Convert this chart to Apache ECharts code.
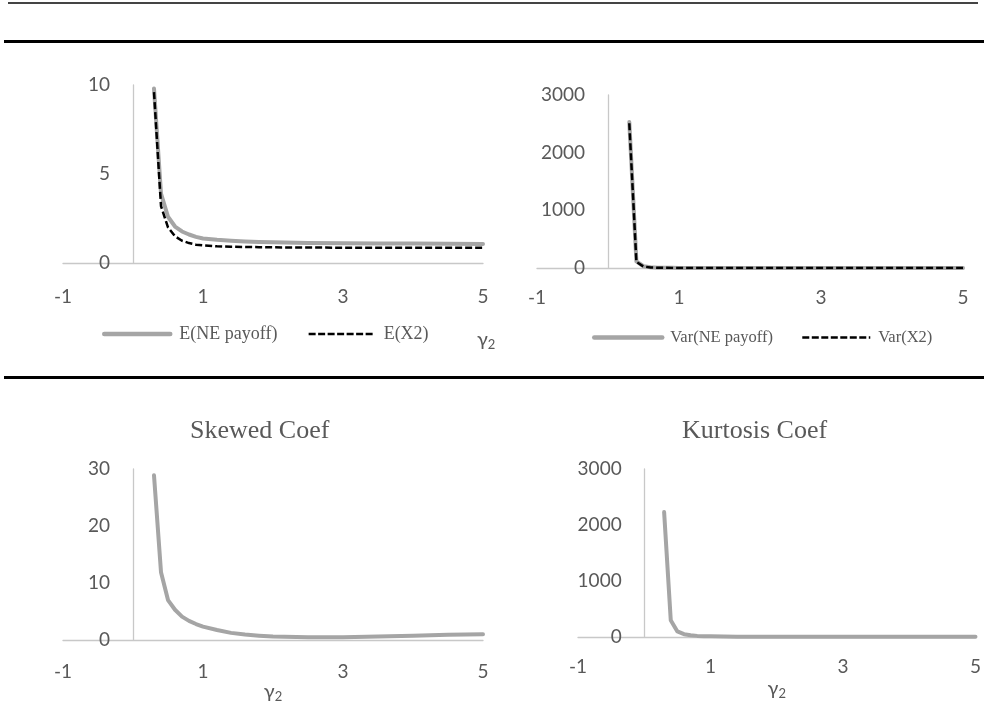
<!DOCTYPE html>
<html>
<head>
<meta charset="utf-8">
<script src="https://cdn.jsdelivr.net/npm/echarts@6/dist/echarts.min.js"></script>
<style>
  html, body { margin: 0; padding: 0; background: #fff; }
  #myChart { width: 984px; height: 714px; }
</style>
</head>
<body>
<div id="myChart"></div>
<script>
// gamma_2 values (x), shared by all four panels
const gammaX = [0.3, 0.4, 0.5, 0.6, 0.7, 0.8, 0.9, 1.0, 1.2, 1.4, 1.6, 1.8, 2.0, 2.5, 3.0, 3.5, 4.0, 4.5, 5.0];

// top-left: means
const meanNE = [9.8, 3.9, 2.6, 2.05, 1.77, 1.6, 1.47, 1.38, 1.3, 1.25, 1.21, 1.18, 1.16, 1.13, 1.11, 1.1, 1.09, 1.08, 1.07];
const meanX2 = [9.6, 3.2, 2.0, 1.5, 1.25, 1.12, 1.03, 0.99, 0.94, 0.91, 0.9, 0.89, 0.88, 0.87, 0.86, 0.86, 0.85, 0.85, 0.85];

// top-right: variances
const varNE = [2530, 115, 30, 12, 6, 4, 3, 2, 1.5, 1.2, 1, 0.9, 0.8, 0.6, 0.5, 0.5, 0.5, 0.5, 0.5];
const varX2 = [2510, 105, 25, 10, 5, 3, 2, 1.5, 1.2, 1, 0.8, 0.7, 0.6, 0.5, 0.4, 0.4, 0.4, 0.4, 0.4];

// bottom: skewness and kurtosis
const skewCoef = [28.9, 11.9, 7.0, 5.3, 4.1, 3.35, 2.8, 2.35, 1.76, 1.25, 0.95, 0.75, 0.6, 0.5, 0.5, 0.6, 0.75, 0.9, 1.0];
const kurtCoef = [2230, 300, 100, 50, 30, 20, 15, 12, 8, 6, 5, 4, 3.5, 3, 3, 3, 3, 3, 3];

const xTicks = {min: -1, max: 5, interval: 2};
const legendTop = ['E(NE payoff)', 'E(X2)'];
const legendVar = ['Var(NE payoff)', 'Var(X2)'];
const panelTitles = ['Skewed Coef', 'Kurtosis Coef'];

const txt = '#595959';
const axisCol = '#c8c8c8';
const grayLine = '#a5a5a5';

function pairs(ys) {
  return gammaX.map((x, i) => [x, ys[i]]);
}

function xAx(gi, margin) {
  return {
    type: 'value', gridIndex: gi,
    min: xTicks.min, max: xTicks.max, interval: xTicks.interval,
    axisLine: {onZero: false, lineStyle: {color: axisCol, width: 1.3}},
    axisTick: {show: false},
    splitLine: {show: false},
    axisLabel: {margin: margin, color: txt, fontFamily: 'Lato', fontSize: 19}
  }
}

// the vertical axis crosses at x = 0, so it is shifted right by one x unit
function yAx(gi, max, interval, shift) {
  return {
    type: 'value', gridIndex: gi, min: 0, max: max, interval: interval,
    offset: -shift,
    axisLine: {show: true, onZero: false, lineStyle: {color: axisCol, width: 1.3}},
    axisTick: {show: false},
    splitLine: {show: false},
    axisLabel: {margin: 23, color: txt, fontFamily: 'Lato', fontSize: 19, formatter: v => String(v)}
  }
}

function solid(name, gi, ys) {
  return {
    name: name, type: 'line', xAxisIndex: gi, yAxisIndex: gi,
    data: pairs(ys), symbol: 'none', silent: true,
    lineStyle: {color: grayLine, width: 4, cap: 'round', join: 'round'},
    itemStyle: {color: grayLine}
  }
}

function dashed(name, gi, ys) {
  return {
    name: name, type: 'line', xAxisIndex: gi, yAxisIndex: gi,
    data: pairs(ys), symbol: 'none', silent: true,
    lineStyle: {color: '#000', width: 2.5, type: [7, 3]},
    itemStyle: {color: '#000'}
  }
}

function legendItems(names) {
  return [
    {name: names[0], lineStyle: {width: 4.5, color: grayLine, cap: 'round'}},
    {name: names[1], lineStyle: {width: 2.5, color: '#000', type: [7, 2.5]}}
  ]
}

const gammaRich = {
  g: {fontFamily: 'Lato', fontSize: 20, color: txt},
  s: {fontFamily: 'Lato', fontSize: 13, color: txt, padding: [9, 0, 0, 0]}
};

const option = {
  animation: false,
  title: [
    {text: panelTitles[0], left: 190, top: 418, padding: 0,
      textStyle: {fontFamily: 'Liberation Serif', fontSize: 26, fontWeight: 'normal', color: txt}},
    {text: panelTitles[1], left: 682, top: 418, padding: 0,
      textStyle: {fontFamily: 'Liberation Serif', fontSize: 26, fontWeight: 'normal', color: txt}}
  ],
  legend: [
    {data: legendItems(legendTop), left: 102, top: 325, padding: 0, itemWidth: 66, itemHeight: 14, itemGap: 30,
      itemStyle: {opacity: 0},
      textStyle: {fontFamily: 'Liberation Serif', fontSize: 18, color: txt, padding: [0, 0, 0, 4]}},
    {data: legendItems(legendVar), left: 592, top: 329, padding: 0, itemWidth: 68, itemHeight: 14, itemGap: 28,
      itemStyle: {opacity: 0},
      textStyle: {fontFamily: 'Liberation Serif', fontSize: 16.5, color: txt, padding: [0, 0, 0, 3]}}
  ],
  grid: [
    {left: 63, top: 85, width: 420, height: 178},
    {left: 537, top: 95, width: 426, height: 173},
    {left: 63, top: 469, width: 420, height: 171},
    {left: 578, top: 469, width: 400, height: 168}
  ],
  xAxis: [
    xAx(0, 24),
    xAx(1, 20),
    Object.assign(xAx(2, 22), {name: '{g|γ}{s|2}', nameLocation: 'middle', nameGap: 38,
      nameTextStyle: {rich: gammaRich}}),
    Object.assign(xAx(3, 20), {name: '{g|γ}{s|2}', nameLocation: 'middle', nameGap: 41,
      nameTextStyle: {rich: gammaRich}})
  ],
  yAxis: [
    yAx(0, 10, 5, 420 / 6),
    yAx(1, 3000, 1000, 426 / 6),
    yAx(2, 30, 10, 420 / 6),
    yAx(3, 3000, 1000, 400 / 6)
  ],
  series: [
    solid(legendTop[0], 0, meanNE),
    dashed(legendTop[1], 0, meanX2),
    solid(legendVar[0], 1, varNE),
    dashed(legendVar[1], 1, varX2),
    solid('Skewed Coef', 2, skewCoef),
    solid('Kurtosis Coef', 3, kurtCoef)
  ],
  graphic: [
    // table rules
    {type: 'line', shape: {x1: 8, y1: 3, x2: 978, y2: 3}, style: {stroke: '#444', lineWidth: 2}},
    {type: 'line', shape: {x1: 4, y1: 41.5, x2: 984, y2: 41.5}, style: {stroke: '#000', lineWidth: 3}},
    {type: 'line', shape: {x1: 4, y1: 377.5, x2: 984, y2: 377.5}, style: {stroke: '#000', lineWidth: 3}},
    // gamma label of the top-left panel
    {type: 'text', left: 477, top: 330,
      style: {text: '{g|γ}{s|2}', fill: txt, rich: gammaRich}}
  ]
}

const myChartOne = echarts.init(document.getElementById('myChart'))
myChartOne.setOption(option)
</script>
</body>
</html>
